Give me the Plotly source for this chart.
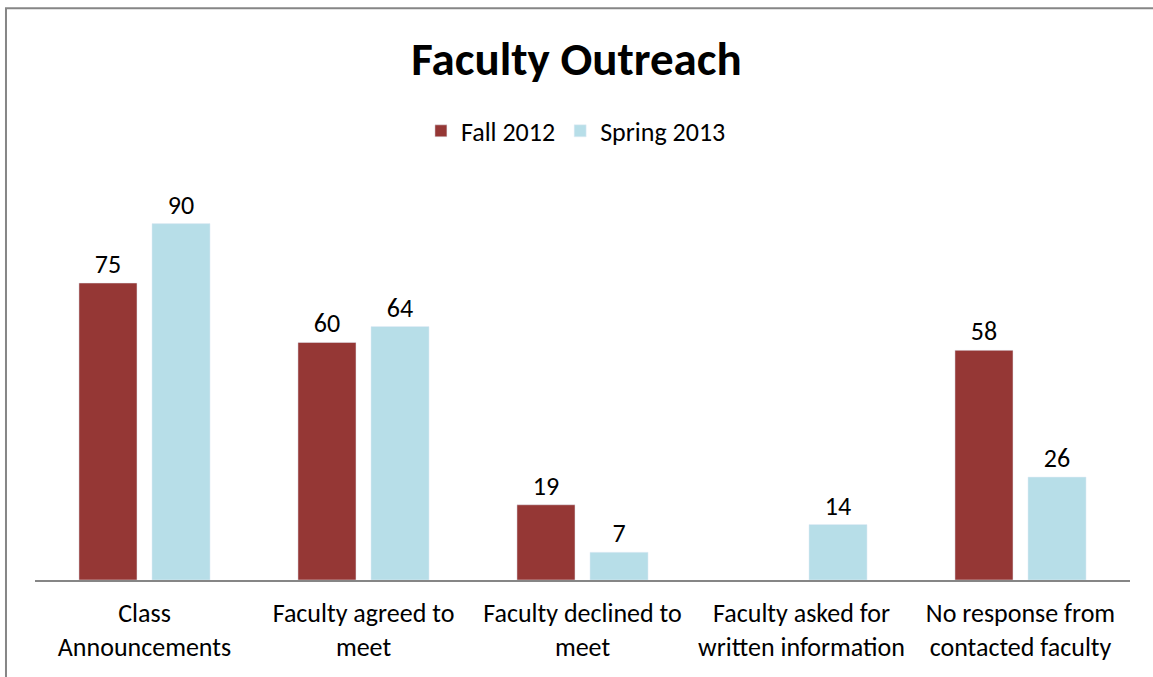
import plotly.graph_objects as go

categories = [
    "Class<br>Announcements",
    "Faculty agreed to<br>meet",
    "Faculty declined to<br>meet",
    "Faculty asked for<br>written information",
    "No response from<br>contacted faculty",
]
fall_2012 = [75, 60, 19, None, 58]
spring_2013 = [90, 64, 7, 14, 26]

FONT = "Carlito, Lato, Calibri, sans-serif"

fig = go.Figure()
fig.add_trace(go.Bar(
    x=categories, y=fall_2012, name="Fall 2012",
    marker_color="#953735", text=fall_2012, textposition="outside",
    textfont=dict(size=26, color="black"), cliponaxis=False,
))
fig.add_trace(go.Bar(
    x=categories, y=spring_2013, name="Spring 2013",
    marker_color="#b7dee8", text=spring_2013, textposition="outside",
    textfont=dict(size=26, color="black"), cliponaxis=False,
))

fig.update_layout(
    width=1153, height=677,
    font=dict(family=FONT, size=26, color="black"),
    title=dict(text="<b>Faculty Outreach</b>", x=0.5, xanchor="center",
               y=0.913, yanchor="middle", font=dict(size=47, family=FONT)),
    legend=dict(orientation="h", x=0.494, xanchor="center", y=1.134, yanchor="middle",
                font=dict(size=26), itemwidth=30, traceorder="normal"),
    barmode="group", bargap=0.333, bargroupgap=0.205,
    plot_bgcolor="white", paper_bgcolor="white",
    margin=dict(l=35, r=23, t=184, b=97),
    showlegend=True,
)
fig.update_xaxes(showline=True, linecolor="#868686", linewidth=2, ticks="",
                 tickfont=dict(size=26), showgrid=False, ticklabelstandoff=9)
fig.update_yaxes(range=[0, 100], visible=False, showgrid=False)

# outer chart border
fig.add_shape(type="rect", xref="paper", yref="paper",
              x0=-0.0265, x1=1.03, y0=-0.3, y1=1.444,
              line=dict(color="#868686", width=2))

fig.write_html("out.html", config={"displayModeBar": False},
               post_script="document.body.style.margin='0';")
